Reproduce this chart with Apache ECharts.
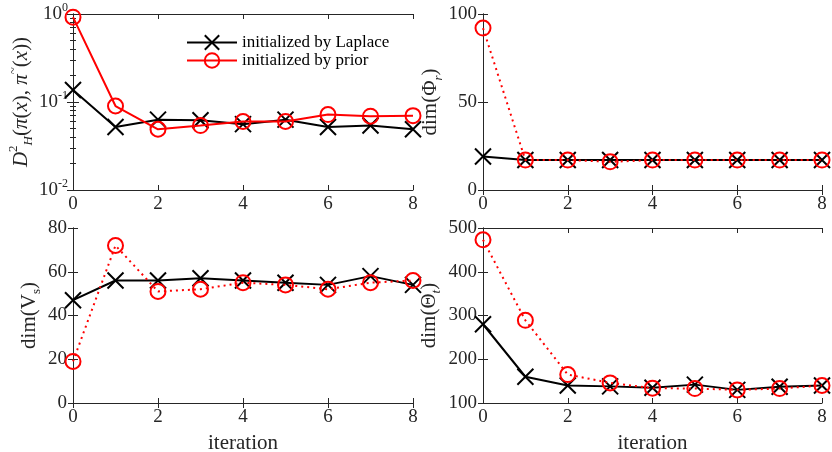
<!DOCTYPE html>
<html>
<head>
<meta charset="utf-8">
<script src="https://cdn.jsdelivr.net/npm/echarts@6/dist/echarts.min.js"></script>
<style>html,body{margin:0;padding:0;background:#fff}#c{width:832px;height:452px}</style>
</head>
<body>
<div id="c"></div>
<script>
const iterations = [0, 1, 2, 3, 4, 5, 6, 7, 8];
const hellLaplace = [0.137, 0.052, 0.063, 0.062, 0.056, 0.063, 0.052, 0.054, 0.049];
const hellPrior = [0.92, 0.090, 0.049, 0.054, 0.060, 0.060, 0.072, 0.069, 0.070];
const phiLaplace = [19, 17, 17, 17, 17, 17, 17, 17, 17];
const phiPrior = [92, 17, 17, 16, 17, 17, 17, 17, 17];
const vsLaplace = [47, 56, 56, 57, 56, 55, 54, 58, 54];
const vsPrior = [19, 72, 51, 52, 55, 54, 52, 55, 56];
const thetaLaplace = [280, 160, 140, 138, 135, 142, 130, 137, 140];
const thetaPrior = [473, 289, 165, 146, 134, 133, 130, 133, 140];
const legendNames = ['initialized by Laplace', 'initialized by prior'];

const FONT = "'Liberation Serif', 'Times New Roman', 'DejaVu Serif', serif";
const AX = '#262626';
const TICK_FS = 19;

const rich = {
  n: { fontFamily: FONT, fontSize: 21, lineHeight: 28, color: AX },
  it: { fontFamily: FONT, fontSize: 21, lineHeight: 28, fontStyle: 'italic', color: AX },
  sup: { fontFamily: FONT, fontSize: 13, verticalAlign: 'top', color: AX },
  subIt: { fontFamily: FONT, fontSize: 13, verticalAlign: 'bottom', fontStyle: 'italic', color: AX },
  sub: { fontFamily: FONT, fontSize: 13, verticalAlign: 'bottom', color: AX },
  tn: { fontFamily: FONT, fontSize: TICK_FS, lineHeight: 24, color: AX },
  tsup: { fontFamily: FONT, fontSize: 12, verticalAlign: 'top', color: AX }
};

const grids = [
  { left: 73, top: 14, width: 340, height: 176 },
  { left: 483, top: 14, width: 339, height: 176 },
  { left: 73, top: 228, width: 340, height: 175 },
  { left: 483, top: 228, width: 339, height: 175 }
];

const xAxes = [];
const yAxes = [];
const series = [];

function xPair(g, withName) {
  const base = {
    type: 'value', gridIndex: g, min: 0, max: 8, interval: 2,
    axisLine: { show: true, lineStyle: { color: AX, width: 1 } },
    axisTick: { show: true, inside: true, length: 5, lineStyle: { color: AX } },
    splitLine: { show: false }
  };
  const bottomIdx = xAxes.length;
  xAxes.push(Object.assign({}, base, {
    position: 'bottom',
    axisLabel: { show: true, fontFamily: FONT, fontSize: TICK_FS, color: AX, margin: 5 },
    name: withName ? 'iteration' : '',
    nameLocation: 'middle', nameGap: 30,
    nameTextStyle: { fontFamily: FONT, fontSize: 21, color: AX }
  }));
  xAxes.push(Object.assign({}, base, { position: 'top', axisLabel: { show: false } }));
  return bottomIdx;
}

function yLinear(g, min, max, interval, nameStr, nameGap) {
  const base = {
    type: 'value', gridIndex: g, min: min, max: max, interval: interval,
    axisLine: { show: true, lineStyle: { color: AX, width: 1 } },
    axisTick: { show: true, inside: true, length: 5, lineStyle: { color: AX } },
    splitLine: { show: false }
  };
  const idx = yAxes.length;
  yAxes.push(Object.assign({}, base, {
    position: 'left',
    axisLabel: { show: true, fontFamily: FONT, fontSize: TICK_FS, color: AX, margin: 6 },
    name: nameStr, nameLocation: 'middle', nameRotate: 90, nameGap: nameGap,
    nameTextStyle: { rich: rich }
  }));
  yAxes.push(Object.assign({}, base, { position: 'right', axisLabel: { show: false } }));
  return idx;
}

function yLog(g, nameStr, nameGap) {
  const base = {
    type: 'log', logBase: 10, gridIndex: g, min: 0.01, max: 1,
    axisLine: { show: true, lineStyle: { color: AX, width: 1 } },
    axisTick: { show: true, inside: true, length: 6, lineStyle: { color: AX } },
    minorTick: { show: true, splitNumber: 9, length: 3, lineStyle: { color: AX } },
    splitLine: { show: false }, minorSplitLine: { show: false }
  };
  const idx = yAxes.length;
  yAxes.push(Object.assign({}, base, {
    position: 'left',
    axisLabel: {
      show: true, margin: 5,
      formatter: function (v) { return '{tn|10}{tsup|' + Math.round(Math.log10(v)) + '}'; },
      rich: rich
    },
    name: nameStr, nameLocation: 'middle', nameRotate: 90, nameGap: nameGap,
    nameTextStyle: { rich: rich }
  }));
  yAxes.push(Object.assign({}, base, { position: 'right', axisLabel: { show: false } }));
  return idx;
}

const crossSym = 'path://M0,0L10,10M10,0L0,10';

function addPair(xi, yi, lap, pri, priorDotted) {
  series.push({
    name: legendNames[0], type: 'line', xAxisIndex: xi, yAxisIndex: yi,
    data: iterations.map((x, i) => [x, lap[i]]),
    symbol: crossSym, symbolSize: 16, showSymbol: true,
    lineStyle: { color: '#000', width: 2 },
    itemStyle: { color: '#000', borderColor: '#000', borderWidth: 2 },
    z: 2, animation: false
  });
  series.push({
    name: legendNames[1], type: 'line', xAxisIndex: xi, yAxisIndex: yi,
    data: iterations.map((x, i) => [x, pri[i]]),
    symbol: 'circle', symbolSize: 15, showSymbol: true,
    lineStyle: { color: '#ff0000', width: 2, type: priorDotted ? [2, 4] : 'solid' },
    itemStyle: { color: 'rgba(0,0,0,0)', borderColor: '#ff0000', borderWidth: 2 },
    z: 3, animation: false
  });
}

// Panel 1
let xi = xPair(0, false);
let yi = yLog(0, '{it|D}{sup|2}{subIt|H}{n|(}{it|π}{n|(}{it|x}{n|), }{it|π}{sup|~}{n|(}{it|x}{n|))}', 36);
addPair(xi, yi, hellLaplace, hellPrior, false);
// Panel 2
xi = xPair(1, false);
yi = yLinear(1, 0, 100, 50, '{n|dim(Φ}{subIt|r}{n|)}', 24);
addPair(xi, yi, phiLaplace, phiPrior, true);
// Panel 3
xi = xPair(2, true);
yi = yLinear(2, 0, 80, 20, '{n|dim(V}{sub|s}{n|)}', 30);
addPair(xi, yi, vsLaplace, vsPrior, true);
// Panel 4
xi = xPair(3, true);
yi = yLinear(3, 100, 500, 100, '{n|dim(Θ}{subIt|t}{n|)}', 40);
addPair(xi, yi, thetaLaplace, thetaPrior, true);

const chart = echarts.init(document.getElementById('c'), null, { renderer: 'canvas' });
chart.setOption({
  animation: false,
  backgroundColor: '#fff',
  textStyle: { fontFamily: FONT },
  grid: grids.map(g => Object.assign({ containLabel: false, outerBoundsMode: 'none' }, g)),
  xAxis: xAxes,
  yAxis: yAxes,
  legend: {
    data: legendNames,
    orient: 'vertical',
    left: 181, top: 29,
    itemWidth: 50, itemHeight: 18, itemGap: 1,
    textStyle: { fontFamily: FONT, fontSize: 17, color: '#000' },
    selectedMode: false
  },
  series: series
});
</script>
</body>
</html>
